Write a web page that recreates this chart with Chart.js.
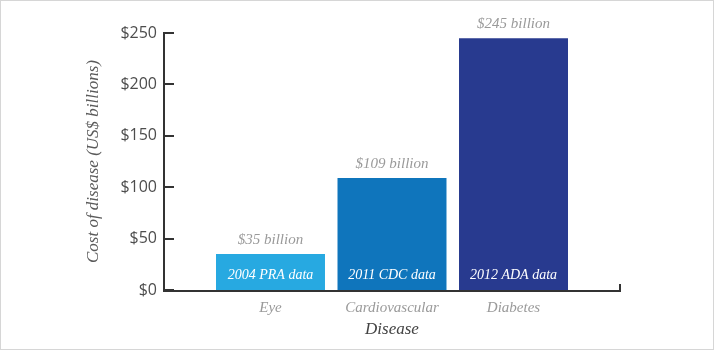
<!DOCTYPE html>
<html><head><meta charset="utf-8">
<script src="https://cdn.jsdelivr.net/npm/chart.js@4/dist/chart.umd.min.js"></script>
<style>html,body{margin:0;padding:0;background:#fff}#wrap{position:absolute;left:0;top:0;width:714px;height:350px}</style>
</head><body><div id="wrap"><canvas id="c" width="714" height="350"></canvas></div>
<script>
const categories = ['Eye', 'Cardiovascular', 'Diabetes'];
const costs = [35, 109, 245];
const valueLabels = ['$35 billion', '$109 billion', '$245 billion'];
const sourceLabels = ['2004 PRA data', '2011 CDC data', '2012 ADA data'];
const barColors = ['#27a9e1', '#0f75bc', '#283a8f'];
const yTicks = [0, 50, 100, 150, 200, 250];

const serif = '"Liberation Serif", "DejaVu Serif", serif';
const edge = 0.8765;

const decor = {
  id: 'decor',
  beforeDraw(chart) {
    const ctx = chart.ctx;
    ctx.save();
    ctx.fillStyle = '#fff';
    ctx.fillRect(0, 0, chart.width, chart.height);
    ctx.strokeStyle = '#d6d6d6';
    ctx.lineWidth = 1;
    ctx.strokeRect(0.5, 0.5, chart.width - 1, chart.height - 1);
    ctx.restore();
  },
  afterDatasetsDraw(chart) {
    const ctx = chart.ctx;
    const a = chart.chartArea;
    const ys = chart.scales.y;
    ctx.save();
    ctx.strokeStyle = '#333';
    ctx.lineWidth = 2;
    ctx.lineCap = 'butt';
    ctx.beginPath();
    ctx.moveTo(a.left, a.top - 1);
    ctx.lineTo(a.left, a.bottom + 1);
    ctx.lineTo(a.right, a.bottom + 1);
    ctx.lineTo(a.right, a.bottom - 6);
    ctx.stroke();
    yTicks.forEach(v => {
      const y = Math.round(ys.getPixelForValue(v));
      ctx.beginPath();
      ctx.moveTo(a.left, y);
      ctx.lineTo(a.left + 10, y);
      ctx.stroke();
    });
    const meta = chart.getDatasetMeta(0);
    ctx.textAlign = 'center';
    ctx.textBaseline = 'middle';
    meta.data.forEach((bar, i) => {
      ctx.font = 'italic 15px ' + serif;
      ctx.fillStyle = '#9a9a9a';
      ctx.fillText(valueLabels[i], bar.x, bar.y - 14);
      ctx.font = 'italic 14px ' + serif;
      ctx.fillStyle = '#ffffff';
      ctx.fillText(sourceLabels[i], bar.x, bar.base - 15);
    });
    ctx.restore();
  }
};

new Chart(document.getElementById('c'), {
  type: 'bar',
  data: {
    datasets: [{
      data: categories.map((c, i) => ({ x: i + 1, y: costs[i] })),
      backgroundColor: barColors,
      borderWidth: 0,
      categoryPercentage: 1,
      barPercentage: 0.897
    }]
  },
  options: {
    responsive: false,
    animation: false,
    devicePixelRatio: 1,
    layout: { padding: { left: 0, right: 94, top: 33, bottom: 0 } },
    plugins: { legend: { display: false }, tooltip: { enabled: false } },
    scales: {
      x: {
        type: 'linear',
        offset: false,
        min: 1 - edge,
        max: categories.length + edge,
        afterBuildTicks(scale) { scale.ticks = categories.map((c, i) => ({ value: i + 1 })); },
        afterFit(scale) { scale.height = 60; },
        grid: { display: false, drawTicks: false, offset: false },
        border: { display: false },
        ticks: {
          autoSkip: false,
          maxRotation: 0,
          padding: 9,
          color: '#9a9a9a',
          font: { family: serif, size: 15, style: 'italic' },
          callback: v => categories[v - 1]
        },
        title: {
          display: true,
          text: 'Disease',
          color: '#444',
          font: { family: serif, size: 17, style: 'italic' },
          padding: { top: 0, bottom: 10 }
        }
      },
      y: {
        min: 0,
        max: 250,
        afterBuildTicks(scale) { scale.ticks = yTicks.map(v => ({ value: v })); },
        afterFit(scale) { scale.width = 164; },
        grid: { display: false, drawTicks: false },
        border: { display: false },
        ticks: {
          padding: 7,
          color: '#4d4d4d',
          font: { family: '"Open Sans", sans-serif', size: 16 },
          callback: v => '$' + v
        },
        title: {
          display: true,
          text: 'Cost of disease (US$ billions)',
          color: '#5a5a5a',
          font: { family: serif, size: 17, style: 'italic' },
          padding: { top: 83, bottom: 0 }
        }
      }
    }
  },
  plugins: [decor]
});
</script></body></html>
